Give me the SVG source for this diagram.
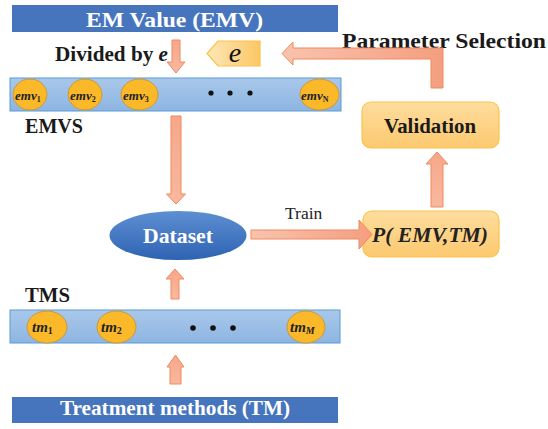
<svg xmlns="http://www.w3.org/2000/svg" width="548" height="429" viewBox="0 0 548 429">
<defs>
<linearGradient id="gBar" x1="0" y1="0" x2="0" y2="1"><stop offset="0" stop-color="#a9c8ea"/><stop offset="1" stop-color="#8db5e2"/></linearGradient>
<linearGradient id="gArrV" x1="0" y1="0" x2="0" y2="1"><stop offset="0" stop-color="#f6a789"/><stop offset="1" stop-color="#f8b89f"/></linearGradient>
<linearGradient id="gArrH" x1="0" y1="0" x2="1" y2="0"><stop offset="0" stop-color="#f9c3ae"/><stop offset="1" stop-color="#f49e80"/></linearGradient>
<linearGradient id="gBox" x1="0" y1="0" x2="0" y2="1"><stop offset="0" stop-color="#fedd9e"/><stop offset="1" stop-color="#fcc96f"/></linearGradient>
<linearGradient id="gE" x1="0" y1="0" x2="1" y2="0"><stop offset="0" stop-color="#fde7b8"/><stop offset="1" stop-color="#fcc764"/></linearGradient>
<linearGradient id="gDs" x1="0" y1="0" x2="0" y2="1"><stop offset="0" stop-color="#5d8fd2"/><stop offset="1" stop-color="#2e63b3"/></linearGradient>
</defs>
<style>
.hdr{fill:#4775bd}
.hdrT{fill:#fff}
.bar{fill:url(#gBar);stroke:#5b9bd5;stroke-width:1}
.ov{fill:#fbb829;stroke:#c89a3a;stroke-width:1}
.lbl{fill:#1a1a1a}
.var{fill:#222}
.arr{stroke:#ef8a5e;stroke-width:1}
.box{fill:url(#gBox);stroke:#fcc24a;stroke-width:1.2}
.dot{fill:#111}
</style>

<g id="emv-header">
<rect class="hdr" x="12" y="5" width="326" height="27"/>
<text class="hdrT" font-family="Liberation Serif, serif" font-weight="bold" x="86" y="27" font-size="22" textLength="177" lengthAdjust="spacingAndGlyphs">EM Value (EMV)</text>
</g>

<g id="divided-label">
<text class="lbl" font-family="Liberation Serif, serif" font-weight="bold" x="55" y="61" font-size="20" textLength="113" lengthAdjust="spacingAndGlyphs">Divided by <tspan font-style="italic">e</tspan></text>
</g>

<g id="e-param">
<path d="M207,53.5 L218,41 L260,41 L260,66 L218,66 Z" fill="url(#gE)" stroke="#fcc24a" stroke-width="1.2"/>
<text x="235" y="62" font-family="Liberation Serif, serif" font-style="italic" font-size="28" fill="#111" text-anchor="middle">e</text>
</g>

<g id="parameter-selection-label">
<text class="lbl" font-family="Liberation Serif, serif" font-weight="bold" x="342" y="48" font-size="22" textLength="204" lengthAdjust="spacingAndGlyphs">Parameter Selection</text>
</g>

<g id="emvs">
<rect class="bar" x="10" y="78" width="331" height="33"/>
<ellipse class="ov" cx="30" cy="94.5" rx="17" ry="15.5"/>
<ellipse class="ov" cx="85" cy="94.5" rx="17" ry="15.5"/>
<ellipse class="ov" cx="139.5" cy="94.5" rx="18.5" ry="15.5"/>
<ellipse class="ov" cx="319.5" cy="94.5" rx="19.5" ry="15.5"/>
<text class="var" font-family="Liberation Serif, serif" font-weight="bold" font-style="italic" x="15" y="100" font-size="13">emv<tspan font-size="8" font-style="normal" dy="2">1</tspan></text>
<text class="var" font-family="Liberation Serif, serif" font-weight="bold" font-style="italic" x="70" y="100" font-size="13">emv<tspan font-size="8" font-style="normal" dy="2">2</tspan></text>
<text class="var" font-family="Liberation Serif, serif" font-weight="bold" font-style="italic" x="123" y="100" font-size="13">emv<tspan font-size="8" font-style="normal" dy="2">3</tspan></text>
<text class="var" font-family="Liberation Serif, serif" font-weight="bold" font-style="italic" x="301" y="100" font-size="13">emv<tspan font-size="8" font-style="normal" dy="2">N</tspan></text>
<circle class="dot" cx="211" cy="93" r="2.6"/>
<circle class="dot" cx="230" cy="93" r="2.6"/>
<circle class="dot" cx="250" cy="93" r="2.6"/>
<text class="lbl" font-family="Liberation Serif, serif" font-weight="bold" x="25" y="133" font-size="20" textLength="58" lengthAdjust="spacingAndGlyphs">EMVS</text>
</g>

<g id="validation">
<rect class="box" x="362" y="102" width="137" height="46" rx="9"/>
<text class="lbl" font-family="Liberation Serif, serif" font-weight="bold" x="384" y="133" font-size="20" textLength="92" lengthAdjust="spacingAndGlyphs">Validation</text>
</g>

<g id="dataset">
<ellipse cx="178" cy="235.5" rx="68.5" ry="24.5" fill="url(#gDs)"/>
<text class="hdrT" font-family="Liberation Serif, serif" font-weight="bold" x="143" y="243" font-size="21" textLength="70" lengthAdjust="spacingAndGlyphs">Dataset</text>
</g>

<g id="model">
<rect class="box" x="363" y="211" width="136" height="46" rx="9"/>
<text class="var" font-family="Liberation Serif, serif" font-weight="bold" font-style="italic" x="372" y="242" font-size="21" textLength="116" lengthAdjust="spacingAndGlyphs" fill="#111">P( EMV,TM)</text>
</g>

<g id="tms">
<text class="lbl" font-family="Liberation Serif, serif" font-weight="bold" x="25" y="302" font-size="20" textLength="45" lengthAdjust="spacingAndGlyphs">TMS</text>
<rect class="bar" x="10" y="310" width="330" height="33"/>
<ellipse class="ov" cx="47" cy="327" rx="20" ry="16"/>
<ellipse class="ov" cx="116.5" cy="327" rx="19.5" ry="16"/>
<ellipse class="ov" cx="306" cy="327" rx="19" ry="16"/>
<text class="var" font-family="Liberation Serif, serif" font-weight="bold" font-style="italic" x="32" y="332" font-size="15">tm<tspan font-size="10" font-style="normal" dy="2">1</tspan></text>
<text class="var" font-family="Liberation Serif, serif" font-weight="bold" font-style="italic" x="101" y="332" font-size="15">tm<tspan font-size="10" font-style="normal" dy="2">2</tspan></text>
<text class="var" font-family="Liberation Serif, serif" font-weight="bold" font-style="italic" x="290" y="332" font-size="15">tm<tspan font-size="10" dy="2">M</tspan></text>
<circle class="dot" cx="193" cy="328" r="2.8"/>
<circle class="dot" cx="213" cy="328" r="2.8"/>
<circle class="dot" cx="233" cy="328" r="2.8"/>
</g>

<g id="tm-header">
<rect class="hdr" x="12" y="397" width="326" height="26"/>
<text class="hdrT" font-family="Liberation Serif, serif" font-weight="bold" x="60" y="415" font-size="21" textLength="230" lengthAdjust="spacingAndGlyphs">Treatment methods (TM)</text>
</g>

<g id="connectors">
<path class="arr" fill="url(#gArrV)" d="M172,40 L180,40 L180,62 L185,62 L176,73 L167,62 L172,62 Z"/>
<path class="arr" fill="url(#gArrH)" d="M282,53.5 L293,42 L293,48 L443,48 L443,88 L431,88 L431,59 L293,59 L293,65 Z"/>
<path class="arr" fill="url(#gArrV)" d="M171,116 L181,116 L181,194 L185.5,194 L176,204 L166.5,194 L171,194 Z"/>
<path class="arr" fill="url(#gArrH)" d="M251,230 L359,230 L359,220 L372,234.5 L359,249 L359,239 L251,239 Z"/>
<text x="285" y="219" font-family="Liberation Serif, serif" font-size="17.5" fill="#222">Train</text>
<path class="arr" fill="url(#gArrV)" d="M437,152 L448,164 L443,164 L443,207 L431,207 L431,164 L426,164 Z"/>
<path class="arr" fill="url(#gArrV)" d="M175,269 L184,279 L179,279 L179,299 L171,299 L171,279 L166,279 Z"/>
<path class="arr" fill="url(#gArrV)" d="M175.5,355 L184,367 L181,367 L181,384 L170,384 L170,367 L167,367 Z"/>
</g>
</svg>
